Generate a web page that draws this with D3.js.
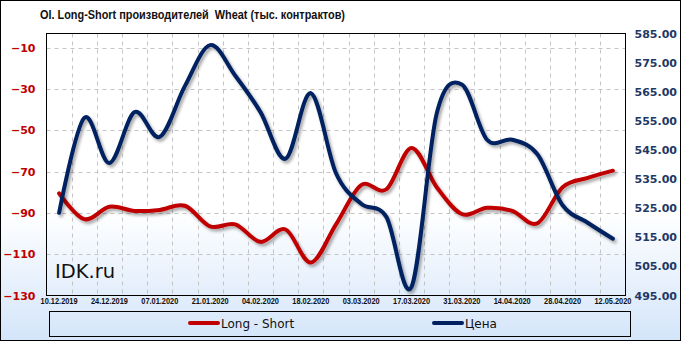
<!DOCTYPE html>
<html>
<head>
<meta charset="utf-8">
<script src="https://cdn.jsdelivr.net/npm/d3@7"></script>
<style>
  body { margin: 0; background: #fff; }
  svg { display: block; }
</style>
</head>
<body>
<svg id="chart" width="681" height="341"></svg>
<script>
// weekly report dates
const dates = ['10.12.2019', '17.12.2019', '24.12.2019', '31.12.2019', '07.01.2020', '14.01.2020',
  '21.01.2020', '28.01.2020', '04.02.2020', '11.02.2020', '18.02.2020', '25.02.2020', '03.03.2020',
  '10.03.2020', '17.03.2020', '24.03.2020', '31.03.2020', '07.04.2020', '14.04.2020', '21.04.2020',
  '28.04.2020', '05.05.2020', '12.05.2020'];

const longShort = [-80.5, -93, -87, -89, -88.5, -86.5, -96.5, -95.5, -104, -98, -114, -95.5,
  -76.5, -78.5, -58.5, -77.5, -90.5, -87.5, -89, -95, -77.5, -73, -69.5];

const price = [523.4, 556, 540.5, 558, 549.5, 567, 581, 570.5, 558, 542, 564.5, 537,
  526.5, 522, 498, 557.5, 567.5, 548.5, 548.5, 543.5, 526, 520, 514.5];

const leftTicks = [-10, -30, -50, -70, -90, -110, -130];
const rightTicks = [585, 575, 565, 555, 545, 535, 525, 515, 505, 495];

const RED = '#c00000';
const NAVY = '#002060';

const svg = d3.select('#chart');
const W = 681, H = 341;
const plot = { left: 46.5, right: 625.5, top: 33.5, bottom: 295.5 };

const defs = svg.append('defs');
const grad = defs.append('linearGradient')
  .attr('id', 'bg').attr('x1', 0).attr('y1', 0).attr('x2', 0).attr('y2', 1);
grad.append('stop').attr('offset', '0').attr('stop-color', '#ffffff');
grad.append('stop').attr('offset', '0.62').attr('stop-color', '#ffffff');
grad.append('stop').attr('offset', '1').attr('stop-color', '#d4e5fa');

const shadow = defs.append('filter').attr('id', 'shadow')
  .attr('x', '-10%').attr('y', '-10%').attr('width', '120%').attr('height', '120%');
shadow.append('feDropShadow')
  .attr('dx', 2).attr('dy', 2.5).attr('stdDeviation', 1.4)
  .attr('flood-color', '#000').attr('flood-opacity', 0.35);

svg.append('rect')
  .attr('x', 0.5).attr('y', 0.5).attr('width', W - 1).attr('height', H - 1)
  .attr('fill', 'url(#bg)').attr('stroke', '#000');

const x = d3.scaleBand().domain(d3.range(dates.length))
  .range([plot.left, plot.right]).paddingInner(0).paddingOuter(0);
const yL = d3.scaleLinear().domain([-130, -3]).range([plot.bottom, plot.top]);
const yR = d3.scaleLinear().domain([495, 585]).range([plot.bottom, plot.top]);

// grid
const grid = svg.append('g')
  .attr('stroke', '#c4c4c4').attr('stroke-dasharray', '4,4').attr('stroke-width', 1);
grid.selectAll('line.h').data(leftTicks.filter(d => d > -130)).join('line')
  .attr('x1', plot.left).attr('x2', plot.right)
  .attr('y1', d => Math.round(yL(d)) + 0.5).attr('y2', d => Math.round(yL(d)) + 0.5);
grid.selectAll('line.v').data(d3.range(1, dates.length)).join('line')
  .attr('y1', plot.top).attr('y2', plot.bottom)
  .attr('x1', d => Math.round(x(d)) + 0.5).attr('x2', d => Math.round(x(d)) + 0.5);

// watermark
svg.append('text')
  .attr('x', 55).attr('y', 278)
  .attr('font-family', 'DejaVu Sans').attr('font-size', 19.5)
  .attr('fill', '#111').text('IDK.ru');

// lines
const cx = i => x(i) + x.bandwidth() / 2;
const lineL = d3.line().x((d, i) => cx(i)).y(d => yL(d)).curve(d3.curveCardinal.tension(0));
const lineR = d3.line().x((d, i) => cx(i)).y(d => yR(d)).curve(d3.curveCardinal.tension(0));

svg.append('path').datum(longShort)
  .attr('d', lineL).attr('fill', 'none').attr('stroke', RED)
  .attr('stroke-width', 4).attr('stroke-linecap', 'round').attr('filter', 'url(#shadow)');
svg.append('path').datum(price)
  .attr('d', lineR).attr('fill', 'none').attr('stroke', NAVY)
  .attr('stroke-width', 4).attr('stroke-linecap', 'round').attr('filter', 'url(#shadow)');

svg.append('rect')
  .attr('x', plot.left).attr('y', plot.top)
  .attr('width', plot.right - plot.left).attr('height', plot.bottom - plot.top)
  .attr('fill', 'none').attr('stroke', '#000');

// axes
const axL = svg.append('g').attr('transform', `translate(${plot.left},0)`)
  .call(d3.axisLeft(yL).tickValues(leftTicks).tickSize(0).tickPadding(11));
axL.select('.domain').remove();
axL.selectAll('text')
  .attr('font-family', 'DejaVu Sans').attr('font-weight', 'bold')
  .attr('font-size', 11).attr('fill', RED);

const axR = svg.append('g').attr('transform', `translate(${plot.right},0)`)
  .call(d3.axisRight(yR).tickValues(rightTicks).tickSize(0).tickPadding(9)
    .tickFormat(d3.format('.2f')));
axR.select('.domain').remove();
axR.selectAll('text')
  .attr('font-family', 'DejaVu Sans').attr('font-weight', 'bold')
  .attr('font-size', 11).attr('fill', '#1f3864');

const axB = svg.append('g').attr('transform', `translate(0,${plot.bottom})`)
  .call(d3.axisBottom(x).tickValues(d3.range(0, dates.length, 2))
    .tickFormat(i => dates[i]).tickSize(0).tickPadding(3));
axB.select('.domain').remove();
axB.selectAll('text')
  .attr('font-family', 'Liberation Sans').attr('font-weight', 'bold')
  .attr('font-size', 8.4).attr('fill', '#111')
  .attr('textLength', 37).attr('lengthAdjust', 'spacingAndGlyphs');

// title
svg.append('text')
  .attr('x', 40).attr('y', 18.5)
  .attr('font-family', 'Liberation Sans').attr('font-weight', 'bold')
  .attr('font-size', 13.5).attr('fill', '#111')
  .attr('textLength', 305).attr('lengthAdjust', 'spacingAndGlyphs')
  .attr('xml:space', 'preserve')
  .text('OI. Long-Short производителей  Wheat (тыс. контрактов)');

// legend
svg.append('rect')
  .attr('x', 49.5).attr('y', 311.5).attr('width', 581).attr('height', 25)
  .attr('fill', 'none').attr('stroke', '#000');
const legend = [
  { label: 'Long - Short', color: RED, x: 190 },
  { label: 'Цена', color: NAVY, x: 434 }
];
const lg = svg.selectAll('g.leg').data(legend).join('g')
  .attr('transform', d => `translate(${d.x},323)`);
lg.append('line').attr('x1', 0).attr('x2', 28)
  .attr('stroke', d => d.color).attr('stroke-width', 4).attr('stroke-linecap', 'round');
lg.append('text').attr('x', 31).attr('y', 4.5)
  .attr('font-family', 'DejaVu Sans').attr('font-size', 12).attr('fill', '#111')
  .text(d => d.label);
</script>
</body>
</html>
